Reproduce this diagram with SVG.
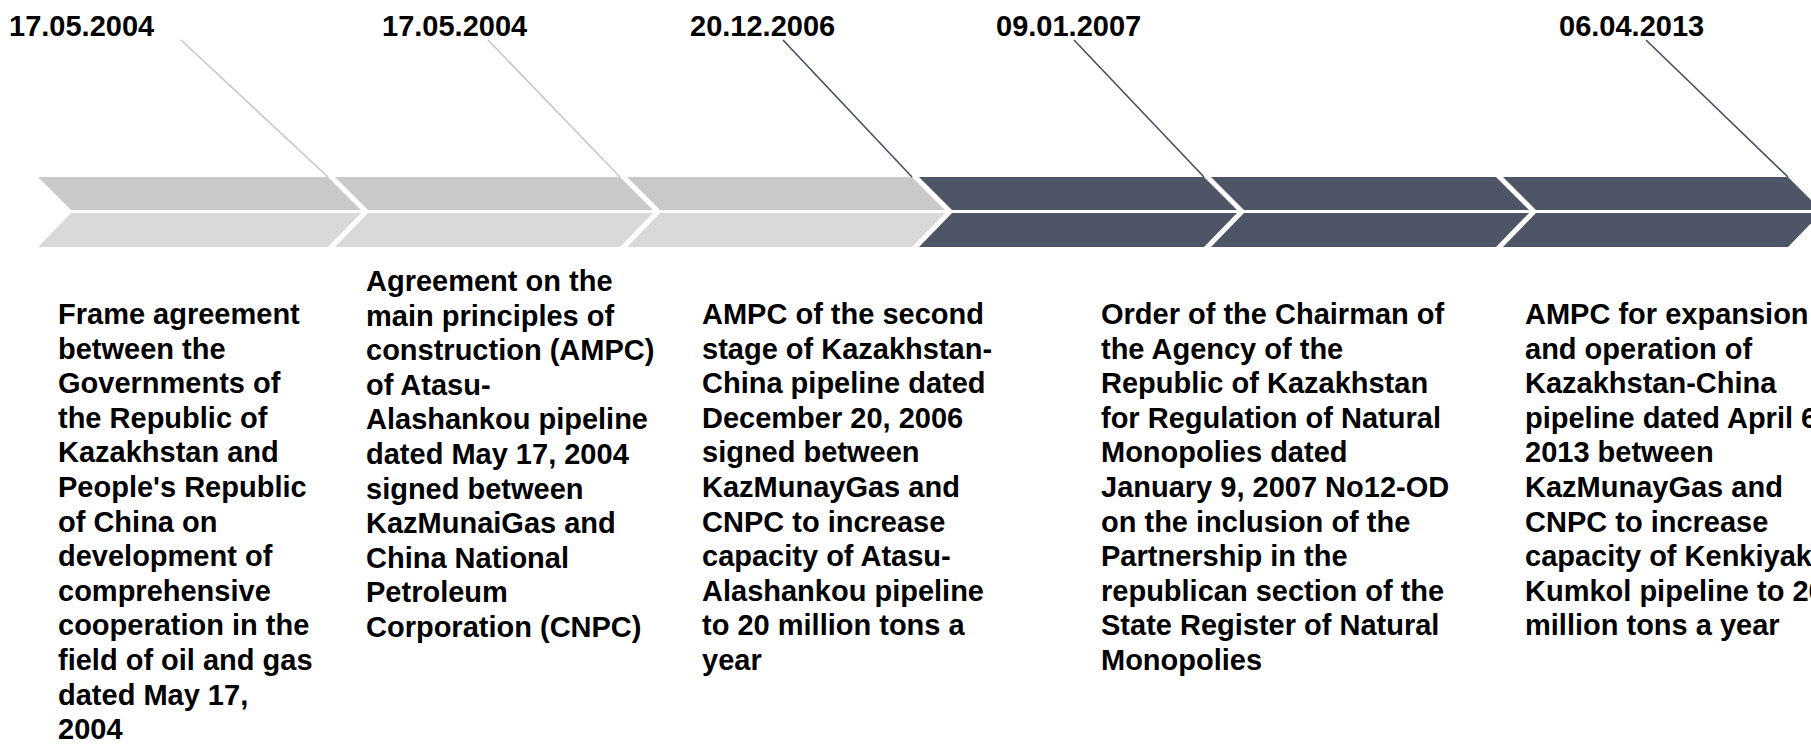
<svg xmlns="http://www.w3.org/2000/svg" width="1811" height="747" viewBox="0 0 1811 747">
<style>
.d{font-family:"Liberation Sans",Arial,sans-serif;font-weight:bold;font-size:29px;fill:#000}
.t{font-family:"Liberation Sans",Arial,sans-serif;font-weight:bold;font-size:29px;fill:#000}
.gt{fill:#C9C9C9}.gb{fill:#D9D9D9}.k{fill:#4E5567}
.lg{stroke:#C8C8C8;stroke-width:1.6;fill:none}.lk{stroke:#474E62;stroke-width:1.6;fill:none}
</style>
<rect width="1811" height="747" fill="#fff"/>
<g id="band">
<g id="chev1"><polygon class="gt" points="38,177 328,177 361,210 71,210"/><polygon class="gb" points="71,213 361,213 328,247 38,247"/></g>
<g id="chev2"><polygon class="gt" points="335,177 620,177 653,210 368,210"/><polygon class="gb" points="368,213 653,213 620,247 335,247"/></g>
<g id="chev3"><polygon class="gt" points="627,177 912,177 945,210 660,210"/><polygon class="gb" points="660,213 945,213 912,247 627,247"/></g>
<g id="chev4"><polygon class="k" points="919,177 1204,177 1237,210 952,210"/><polygon class="k" points="952,213 1237,213 1204,247 919,247"/></g>
<g id="chev5"><polygon class="k" points="1211,177 1496,177 1529,210 1244,210"/><polygon class="k" points="1244,213 1529,213 1496,247 1211,247"/></g>
<g id="chev6"><polygon class="k" points="1503,177 1788,177 1821,210 1536,210"/><polygon class="k" points="1536,213 1821,213 1788,247 1503,247"/></g>
</g>
<g id="connectors">
<line class="lg" x1="181" y1="40" x2="328" y2="177"/>
<line class="lg" x1="488" y1="40" x2="620" y2="177"/>
<line class="lk" x1="783" y1="40" x2="912" y2="177"/>
<line class="lk" x1="1074" y1="40" x2="1204" y2="177"/>
<line class="lk" x1="1646" y1="40" x2="1788" y2="177"/>
</g>
<g id="event1">
<text class="d" x="9" y="36">17.05.2004</text>
<text class="t" x="58" y="324">
<tspan x="58">Frame agreement</tspan><tspan x="58" dy="34.6">between the</tspan><tspan x="58" dy="34.6">Governments of</tspan><tspan x="58" dy="34.6">the Republic of</tspan><tspan x="58" dy="34.6">Kazakhstan and</tspan><tspan x="58" dy="34.6">People's Republic</tspan><tspan x="58" dy="34.6">of China on</tspan><tspan x="58" dy="34.6">development of</tspan><tspan x="58" dy="34.6">comprehensive</tspan><tspan x="58" dy="34.6">cooperation in the</tspan><tspan x="58" dy="34.6">field of oil and gas</tspan><tspan x="58" dy="34.6">dated May 17,</tspan><tspan x="58" dy="34.6">2004</tspan>
</text>
</g>
<g id="event2">
<text class="d" x="382" y="36">17.05.2004</text>
<text class="t" x="366" y="291">
<tspan x="366">Agreement on the</tspan><tspan x="366" dy="34.6">main principles of</tspan><tspan x="366" dy="34.6">construction (AMPC)</tspan><tspan x="366" dy="34.6">of Atasu-</tspan><tspan x="366" dy="34.6">Alashankou pipeline</tspan><tspan x="366" dy="34.6">dated May 17, 2004</tspan><tspan x="366" dy="34.6">signed between</tspan><tspan x="366" dy="34.6">KazMunaiGas and</tspan><tspan x="366" dy="34.6">China National</tspan><tspan x="366" dy="34.6">Petroleum</tspan><tspan x="366" dy="34.6">Corporation (CNPC)</tspan>
</text>
</g>
<g id="event3">
<text class="d" x="690" y="36">20.12.2006</text>
<text class="t" x="702" y="324">
<tspan x="702">AMPC of the second</tspan><tspan x="702" dy="34.6">stage of Kazakhstan-</tspan><tspan x="702" dy="34.6">China pipeline dated</tspan><tspan x="702" dy="34.6">December 20, 2006</tspan><tspan x="702" dy="34.6">signed between</tspan><tspan x="702" dy="34.6">KazMunayGas and</tspan><tspan x="702" dy="34.6">CNPC to increase</tspan><tspan x="702" dy="34.6">capacity of Atasu-</tspan><tspan x="702" dy="34.6">Alashankou pipeline</tspan><tspan x="702" dy="34.6">to 20 million tons a</tspan><tspan x="702" dy="34.6">year</tspan>
</text>
</g>
<g id="event4">
<text class="d" x="996" y="36">09.01.2007</text>
<text class="t" x="1101" y="324">
<tspan x="1101">Order of the Chairman of</tspan><tspan x="1101" dy="34.6">the Agency of the</tspan><tspan x="1101" dy="34.6">Republic of Kazakhstan</tspan><tspan x="1101" dy="34.6">for Regulation of Natural</tspan><tspan x="1101" dy="34.6">Monopolies dated</tspan><tspan x="1101" dy="34.6">January 9, 2007 No12-OD</tspan><tspan x="1101" dy="34.6">on the inclusion of the</tspan><tspan x="1101" dy="34.6">Partnership in the</tspan><tspan x="1101" dy="34.6">republican section of the</tspan><tspan x="1101" dy="34.6">State Register of Natural</tspan><tspan x="1101" dy="34.6">Monopolies</tspan>
</text>
</g>
<g id="event5">
<text class="d" x="1559" y="36">06.04.2013</text>
<text class="t" x="1525" y="324">
<tspan x="1525">AMPC for expansion</tspan><tspan x="1525" dy="34.6">and operation of</tspan><tspan x="1525" dy="34.6">Kazakhstan-China</tspan><tspan x="1525" dy="34.6">pipeline dated April 6,</tspan><tspan x="1525" dy="34.6">2013 between</tspan><tspan x="1525" dy="34.6">KazMunayGas and</tspan><tspan x="1525" dy="34.6">CNPC to increase</tspan><tspan x="1525" dy="34.6">capacity of Kenkiyak-</tspan><tspan x="1525" dy="34.6">Kumkol pipeline to 20</tspan><tspan x="1525" dy="34.6">million tons a year</tspan>
</text>
</g>
</svg>
